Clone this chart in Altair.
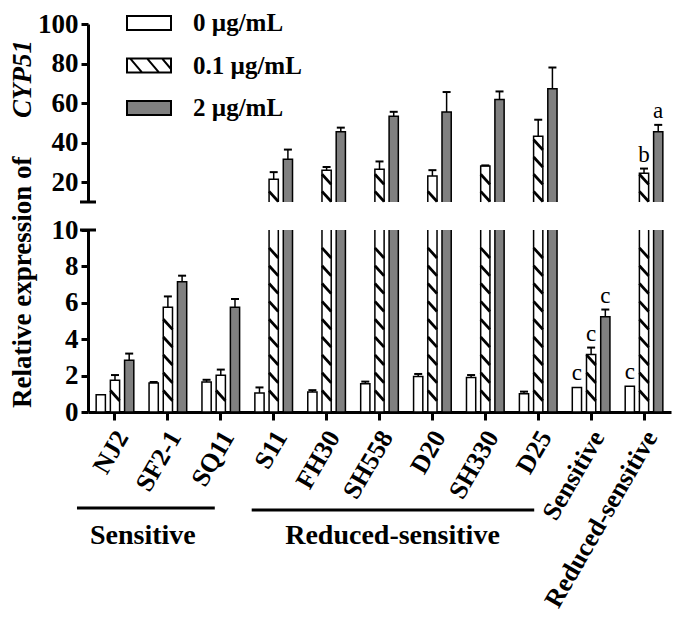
import altair as alt
import pandas as pd

# ---------------- data ----------------
categories = ["NJ2", "SF2-1", "SQ11", "S11", "FH30", "SH558", "D20",
              "SH330", "D25", "Sensitive", "Reduced-sensitive"]
concentrations = ["0 µg/mL", "0.1 µg/mL", "2 µg/mL"]

mean_0 = [0.95, 1.6, 1.65, 1.05, 1.1, 1.55, 1.95, 1.9, 1.0, 1.35, 1.42]
sd_0 = [0.0, 0.05, 0.12, 0.3, 0.1, 0.12, 0.14, 0.13, 0.12, 0.0, 0.0]
mean_01 = [1.75, 5.75, 2.02, 21.5, 26.0, 26.5, 23.2, 28.2, 43.2, 3.16, 24.5]
sd_01 = [0.28, 0.6, 0.31, 3.6, 1.7, 4.0, 2.9, 0.3, 8.4, 0.38, 2.4]
mean_2 = [2.85, 7.16, 5.75, 31.6, 45.5, 53.4, 55.5, 61.8, 67.2, 5.23, 45.5]
sd_2 = [0.36, 0.33, 0.46, 4.9, 2.1, 2.2, 10.1, 4.1, 10.8, 0.4, 3.5]
letters_0 = ["", "", "", "", "", "", "", "", "", "c", "c"]
letters_01 = ["", "", "", "", "", "", "", "", "", "c", "b"]
letters_2 = ["", "", "", "", "", "", "", "", "", "c", "a"]

group_names = ["Sensitive", "Reduced-sensitive"]
y_title_main = "Relative expression of"
y_title_gene = "CYP51"

rows = []
for conc, means, sds, lets in zip(concentrations, [mean_0, mean_01, mean_2],
                                  [sd_0, sd_01, sd_2],
                                  [letters_0, letters_01, letters_2]):
    for cat, m, s, l in zip(categories, means, sds, lets):
        rows.append(dict(cat=cat, conc=conc, v=m, e=s, top=m + s, letter=l))
df = pd.DataFrame(rows)

FONT = "Liberation Serif"
HATCH = concentrations[1]
GRAY = "#808080"

x_scale = alt.Scale(domain=categories, paddingInner=0.2, paddingOuter=0.11)
xoff_scale = alt.Scale(domain=concentrations, paddingInner=0.35, paddingOuter=0.1645)
fill_scale = alt.Scale(domain=concentrations, range=["white", "white", GRAY])

RECT = "M-1,-0.32H1V0.32H-1Z"
HATCH_RECT = RECT + " M-0.86,-0.32L-0.31,0.32 M-0.09,-0.32L0.46,0.32 M0.59,-0.32L1,0.16"
shape_scale = alt.Scale(domain=concentrations, range=[RECT, HATCH_RECT, RECT])
STRIPE = "M-1,-1.1L1,1.1"

legend = alt.Legend(orient="none", legendX=38, legendY=-24, title=None,
                    direction="vertical", symbolSize=1936, symbolStrokeWidth=2,
                    symbolStrokeColor="black", labelFont=FONT,
                    labelFontWeight="bold", labelFontSize=25,
                    labelColor="black", labelOffset=21, rowPadding=6.5,
                    padding=0)

axis_common = dict(title=None, grid=False, domainColor="black", domainWidth=3,
                   tickColor="black", tickWidth=3, labelFont=FONT,
                   labelFontWeight="bold", labelColor="black")


def make_panel(lo, hi, height, yvals, s_start, s_step, s_half, lower):
    y_scale = alt.Scale(domain=[lo, hi], zero=False, nice=False)
    y_axis = alt.Axis(values=yvals, tickSize=7, labelFontSize=27,
                      labelPadding=3, **axis_common)
    if lower:
        x_axis = alt.Axis(labelAngle=-60, labelAlign="right",
                          labelBaseline="top", labelOffset=-4,
                          labelPadding=6, tickSize=8, labelFontSize=26,
                          labelLimit=400, **axis_common)
    else:
        x_axis = None

    def X():
        return alt.X("cat:N", scale=x_scale, axis=x_axis)

    def XO():
        return alt.XOffset("conc:N", scale=xoff_scale)

    def Y(f):
        return alt.Y(f, type="quantitative", scale=y_scale, axis=y_axis)

    base = alt.Chart(df)
    if lower:
        in_panel = "datum.v >= 0"
        top_ok = "datum.top < 10"
        s_expr = f"sequence({s_start}, min(datum.v, {hi}) - {s_half}, {s_step})"
    else:
        in_panel = "datum.v > 10"
        top_ok = "datum.top > 10"
        s_expr = f"sequence({s_start}, datum.v - {s_half}, {s_step})"

    leg = None if lower else legend

    bars = base.transform_filter(in_panel).mark_bar(
        clip=True, stroke="black", strokeWidth=1.5).encode(
        x=X(), xOffset=XO(), y=Y("v"), y2=alt.datum(0),
        fill=alt.Fill("conc:N", scale=fill_scale, legend=leg))

    stripes = base.transform_filter(
        f"datum.conc == '{HATCH}' && " + in_panel).transform_calculate(
        s=s_expr).transform_flatten(["s"]).mark_point(
        shape=STRIPE, size=85, filled=False, color="black",
        strokeWidth=2.8, opacity=1).encode(x=X(), xOffset=XO(), y=Y("s"))

    err_filter = f"datum.e > 0 && ({'datum.v < 10' if lower else 'datum.v > 10'})"
    errs = base.transform_filter(err_filter).mark_rule(
        color="black", strokeWidth=1.5).encode(
        x=X(), xOffset=XO(), y=Y("v"), y2="top:Q")
    caps = base.transform_filter(err_filter).mark_tick(
        color="black", thickness=2, size=8, opacity=1).encode(
        x=X(), xOffset=XO(), y=Y("top"))

    lets = base.transform_filter(
        f"datum.letter != '' && {top_ok}").mark_text(
        font=FONT, fontSize=23, baseline="alphabetic", dy=-7,
        color="black").encode(x=X(), xOffset=XO(), y=Y("top"),
                              text="letter:N")

    brk = alt.Chart(pd.DataFrame({"b": [10]})).mark_rule(
        color="black", strokeWidth=3).encode(
        y=Y("b"), x=alt.value(-8), x2=alt.value(8))

    layers = [bars, stripes, errs, caps, lets, brk]

    if not lower:
        leg_layer = base.transform_filter("false").mark_point(
            filled=True, stroke="black", strokeWidth=2, opacity=1).encode(
            x=X(), xOffset=XO(), y=Y("v"),
            fill=alt.Fill("conc:N", scale=fill_scale, legend=legend),
            shape=alt.Shape("conc:N", scale=shape_scale, legend=legend))
        layers.append(leg_layer)
    else:
        one = alt.Chart(pd.DataFrame({"k": [0]}))
        g1 = one.mark_rule(color="black", strokeWidth=3, xOffset=-38,
                           x2Offset=-6).encode(
            x=alt.X(datum=categories[0], type="nominal", scale=x_scale, axis=x_axis),
            x2=alt.datum(categories[2]), y=alt.value(278))
        g2 = one.mark_rule(color="black", strokeWidth=3, xOffset=-22,
                           x2Offset=-4).encode(
            x=alt.X(datum=categories[3], type="nominal", scale=x_scale, axis=x_axis),
            x2=alt.datum(categories[8]), y=alt.value(280))
        t1 = one.mark_text(font=FONT, fontWeight="bold", fontSize=28,
                           baseline="middle", color="black", dx=-25).encode(
            x=alt.X(datum=categories[1], type="nominal", scale=x_scale, axis=x_axis),
            y=alt.value(306), text=alt.value(group_names[0]))
        t2 = one.mark_text(font=FONT, fontWeight="bold", fontSize=28,
                           baseline="middle", color="black", dx=13).encode(
            x=alt.X(datum=categories[5], type="nominal", scale=x_scale, axis=x_axis),
            y=alt.value(306), text=alt.value(group_names[1]))
        ttl1 = one.mark_text(font=FONT, fontWeight="bold", fontSize=27,
                             angle=270, align="left", baseline="alphabetic",
                             color="black").encode(
            x=alt.value(-57), y=alt.value(178), text=alt.value(y_title_main))
        ttl2 = one.mark_text(font=FONT, fontWeight="bold", fontStyle="italic",
                             fontSize=27, angle=270, align="right",
                             baseline="alphabetic", color="black").encode(
            x=alt.value(-57), y=alt.value(-190), text=alt.value(y_title_gene))
        layers += [g1, g2, t1, t2, ttl1, ttl2]

    return alt.layer(*layers).properties(width=583, height=height)


upper = make_panel(10, 100, 178, [20, 40, 60, 80, 100], 12.8, 8.7, 2.6, False)
lower = make_panel(0, 10, 182, [0, 2, 4, 6, 8, 10], 0.9, 0.98, 0.28, True)

chart = alt.vconcat(upper, lower, spacing=28, bounds="flush").resolve_scale(
    fill="independent", shape="independent").properties(
    padding={"left": 0, "top": -8, "right": 2, "bottom": 0}
).configure_view(stroke=None).configure_axis(grid=False)

chart.save("out.html", embed_options={"renderer": "svg", "actions": False})
